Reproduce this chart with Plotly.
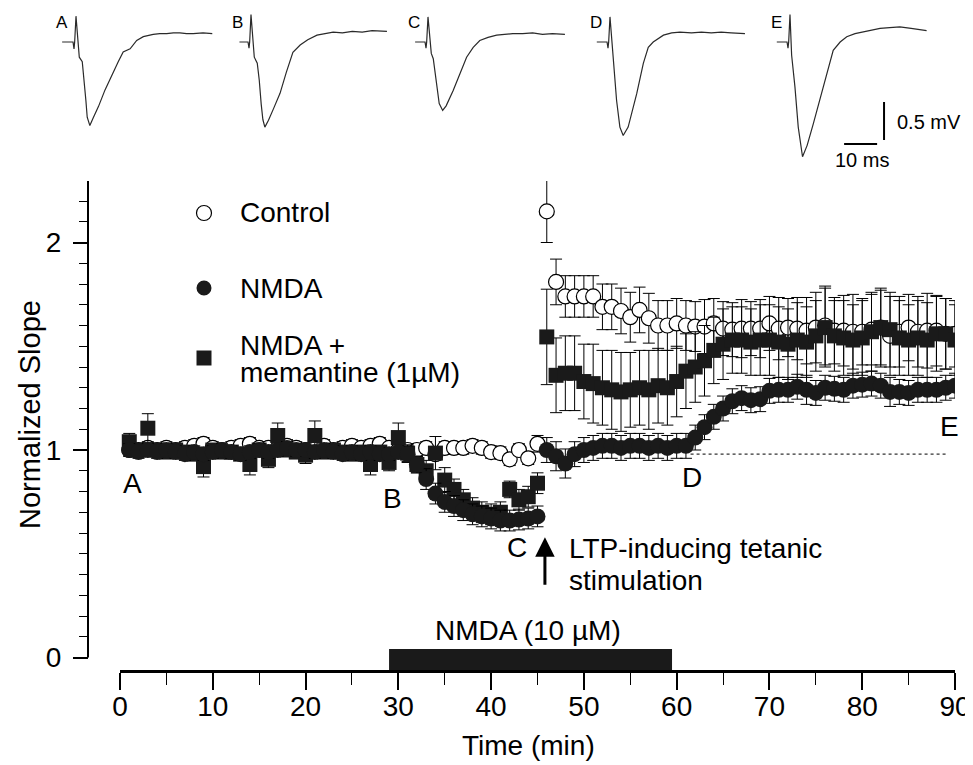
import plotly.graph_objects as go

# the page body adds an 8 px margin: positions below are page pixels, shifted back by it
W, H, BODY = 973, 765, 8
FONT = "Liberation Sans, Arial, sans-serif"

# ---- main time course (min), one point per minute ----
time_min = list(range(1, 91))

control = [
    1.00, 1.00, 1.01, 1.00, 1.01, 1.00, 1.01, 1.02, 1.03, 1.01,
    1.00, 1.01, 1.02, 1.03, 1.01, 1.01, 1.01, 1.02, 1.01, 1.00,
    1.01, 1.02, 1.00, 1.01, 1.02, 1.01, 1.02, 1.03, 1.01, 1.00,
    1.00, 1.00, 1.01, 0.98, 1.01, 1.01, 1.01, 1.02, 1.01, 0.99,
    0.985, 0.955, 1.00, 0.96, 1.03, 2.15, 1.81, 1.74, 1.74, 1.74,
    1.74, 1.69, 1.69, 1.67, 1.64, 1.675, 1.635, 1.60, 1.60, 1.61,
    1.60, 1.595, 1.595, 1.61, 1.585, 1.58, 1.585, 1.585, 1.585, 1.61,
    1.585, 1.59, 1.585, 1.575, 1.59, 1.60, 1.575, 1.575, 1.57, 1.57,
    1.58, 1.59, 1.55, 1.57, 1.59, 1.57, 1.575, 1.575, 1.56, 1.56,
]
control_se = [
    0.03, 0.03, 0.03, 0.03, 0.03, 0.03, 0.03, 0.03, 0.03, 0.03,
    0.03, 0.03, 0.03, 0.03, 0.03, 0.03, 0.03, 0.03, 0.03, 0.03,
    0.03, 0.03, 0.03, 0.03, 0.03, 0.03, 0.03, 0.03, 0.03, 0.03,
    0.03, 0.03, 0.03, 0.03, 0.03, 0.03, 0.03, 0.03, 0.03, 0.03,
    0.03, 0.03, 0.03, 0.03, 0.04, 0.15, 0.11, 0.10, 0.10, 0.10,
    0.10, 0.11, 0.11, 0.11, 0.12, 0.11, 0.12, 0.12, 0.12, 0.12,
    0.12, 0.12, 0.13, 0.12, 0.13, 0.13, 0.14, 0.13, 0.14, 0.13,
    0.15, 0.14, 0.15, 0.16, 0.17, 0.19, 0.16, 0.17, 0.18, 0.16,
    0.17, 0.18, 0.19, 0.17, 0.16, 0.17, 0.18, 0.17, 0.17, 0.16,
]
nmda = [
    1.00, 0.99, 1.00, 0.99, 1.00, 0.99, 0.98, 0.99, 0.98, 0.99,
    1.00, 0.99, 0.98, 0.99, 1.00, 0.99, 1.00, 1.01, 1.00, 1.00,
    0.99, 1.00, 0.99, 0.98, 0.99, 0.98, 0.99, 0.98, 0.98, 0.99,
    0.98, 0.93, 0.86, 0.79, 0.75, 0.73, 0.71, 0.69, 0.68, 0.67,
    0.66, 0.66, 0.665, 0.67, 0.68, 1.00, 0.97, 0.935, 0.98, 1.00,
    1.01, 1.02, 1.02, 1.01, 1.02, 1.02, 1.01, 1.02, 1.01, 1.02,
    1.02, 1.06, 1.11, 1.16, 1.20, 1.235, 1.25, 1.24, 1.245, 1.285,
    1.29, 1.29, 1.305, 1.29, 1.275, 1.30, 1.295, 1.29, 1.31, 1.315,
    1.32, 1.31, 1.28, 1.28, 1.275, 1.29, 1.29, 1.29, 1.30, 1.31,
]
nmda_se = [
    0.03, 0.03, 0.03, 0.03, 0.03, 0.03, 0.03, 0.03, 0.03, 0.03,
    0.03, 0.03, 0.03, 0.03, 0.03, 0.03, 0.03, 0.03, 0.03, 0.03,
    0.03, 0.03, 0.03, 0.03, 0.03, 0.03, 0.03, 0.03, 0.03, 0.03,
    0.04, 0.04, 0.05, 0.05, 0.05, 0.05, 0.05, 0.05, 0.05, 0.05,
    0.05, 0.05, 0.05, 0.05, 0.05, 0.06, 0.07, 0.07, 0.06, 0.06,
    0.06, 0.06, 0.06, 0.06, 0.06, 0.06, 0.06, 0.06, 0.06, 0.06,
    0.06, 0.06, 0.06, 0.06, 0.06, 0.06, 0.06, 0.06, 0.06, 0.06,
    0.06, 0.06, 0.06, 0.07, 0.06, 0.06, 0.06, 0.06, 0.06, 0.06,
    0.06, 0.06, 0.07, 0.06, 0.06, 0.06, 0.06, 0.06, 0.06, 0.06,
]
memantine = [
    1.04, 1.00, 1.105, 1.00, 0.99, 1.00, 0.99, 0.98, 0.92, 1.00,
    0.99, 0.99, 0.98, 0.93, 1.00, 0.955, 1.07, 1.00, 0.99, 0.975,
    1.07, 0.99, 1.00, 0.99, 0.98, 0.99, 0.93, 0.99, 0.94, 1.06,
    0.985, 0.93, 0.90, 0.985, 0.855, 0.81, 0.76, 0.72, 0.70, 0.69,
    0.70, 0.81, 0.76, 0.775, 0.84, 1.545, 1.36, 1.37, 1.37, 1.33,
    1.32, 1.30, 1.29, 1.28, 1.29, 1.30, 1.29, 1.31, 1.30, 1.33,
    1.38, 1.40, 1.43, 1.48, 1.51, 1.53, 1.53, 1.52, 1.53, 1.53,
    1.52, 1.51, 1.53, 1.52, 1.55, 1.59, 1.55, 1.54, 1.53, 1.54,
    1.57, 1.59, 1.58, 1.54, 1.53, 1.54, 1.53, 1.56, 1.56, 1.53,
]
memantine_se = [
    0.04, 0.03, 0.07, 0.03, 0.03, 0.03, 0.03, 0.03, 0.05, 0.03,
    0.03, 0.03, 0.03, 0.05, 0.03, 0.04, 0.06, 0.03, 0.03, 0.04,
    0.07, 0.03, 0.03, 0.03, 0.03, 0.03, 0.05, 0.03, 0.04, 0.07,
    0.04, 0.04, 0.05, 0.08, 0.06, 0.05, 0.05, 0.05, 0.05, 0.05,
    0.05, 0.04, 0.05, 0.05, 0.05, 0.23, 0.18, 0.18, 0.18, 0.18,
    0.19, 0.18, 0.19, 0.19, 0.18, 0.18, 0.19, 0.18, 0.18, 0.17,
    0.18, 0.17, 0.17, 0.16, 0.17, 0.16, 0.16, 0.16, 0.17, 0.17,
    0.17, 0.17, 0.18, 0.17, 0.17, 0.19, 0.17, 0.18, 0.17, 0.18,
    0.19, 0.19, 0.18, 0.18, 0.17, 0.18, 0.18, 0.18, 0.17, 0.17,
]

# NMDA application and pre-NMDA reference level
nmda_on, nmda_off = 29, 59.5
baseline_level = 0.98
baseline_from, baseline_to = 61.5, 89

# ---- example fEPSPs (ms from stimulus, mV) ----
trace_a_ms = [-3.9, -0.6, -0.3, -0.1, 0.3, 0.7, 1.3, 2.2, 2.7, 3.3, 3.7, 4.5, 5.5, 7.1, 9.1,
              11.6, 13.1, 14.6, 16.7, 18.7, 20.7, 23.7, 25.7, 27.8, 29.8, 31.8, 33.8, 35.8, 38.8, 41.6]
trace_a_mv = [0.0, 0.0, -0.09, 0.0, 0.34, 0.13, -0.2, -0.26, -0.46, -0.77, -0.99, -1.1, -1.0, -0.85, -0.63,
              -0.39, -0.26, -0.13, -0.09, 0.02, 0.07, 0.1, 0.11, 0.11, 0.12, 0.12, 0.11, 0.11, 0.12, 0.11]
trace_b_ms = [-3.2, -0.6, -0.3, -0.1, 0.3, 0.7, 1.3, 2.2, 2.8, 3.4, 3.9, 4.5, 5.6, 7.2, 9.1,
              11.0, 13.0, 15.2, 17.5, 20.3, 22.5, 25.2, 28.0, 31.0, 34.0, 37.0, 41.5]
trace_b_mv = [0.0, 0.0, -0.08, 0.0, 0.36, 0.12, -0.2, -0.28, -0.5, -0.82, -1.02, -1.12, -1.03, -0.87, -0.675,
              -0.40, -0.135, -0.04, 0.03, 0.09, 0.11, 0.13, 0.12, 0.14, 0.13, 0.15, 0.14]
trace_c_ms = [-3.6, -0.6, -0.3, -0.1, 0.3, 0.7, 1.3, 1.9, 2.9, 3.7, 4.75, 5.8, 7.9, 10.0, 12.0,
              14.0, 16.0, 18.5, 21.1, 23.5, 26.0, 29.0, 32.0, 35.0, 38.0, 41.8]
trace_c_mv = [0.0, 0.0, -0.08, 0.0, 0.33, 0.12, -0.15, -0.22, -0.59, -0.81, -0.90, -0.84, -0.64, -0.42, -0.20,
              -0.07, 0.02, 0.06, 0.09, 0.10, 0.11, 0.11, 0.12, 0.10, 0.11, 0.10]
trace_d_ms = [-3.7, -0.6, -0.3, -0.1, 0.3, 0.7, 1.2, 2.3, 3.3, 4.3, 5.8, 8.4, 10.4, 11.9, 13.4,
              16.5, 19.0, 21.5, 25.0, 28.0, 31.0, 34.0, 37.0, 41.2]
trace_d_mv = [0.0, 0.0, -0.08, 0.0, 0.33, 0.10, -0.24, -0.77, -1.12, -1.23, -1.12, -0.68, -0.28, -0.07, 0.0,
              0.09, 0.12, 0.13, 0.12, 0.13, 0.12, 0.13, 0.12, 0.11]
trace_e_ms = [-3.7, -0.6, -0.3, -0.1, 0.3, 0.6, 0.8, 1.8, 2.8, 4.1, 5.5, 7.4, 10.4, 13.4, 15.5,
              17.5, 20.0, 22.5, 25.0, 27.6, 30.5, 33.6, 37.0, 41.7]
trace_e_mv = [0.0, 0.0, -0.08, 0.0, 0.36, 0.05, -0.175, -0.59, -1.12, -1.51, -1.36, -1.07, -0.59, -0.11, 0.0,
              0.07, 0.11, 0.13, 0.16, 0.18, 0.19, 0.20, 0.18, 0.15]
trace_labels = ["A", "B", "C", "D", "E"]
scale_ms, scale_mv = 10, 0.5


def px(x):
    # page pixel -> paper fraction
    return (x - BODY) / W


def py(y):
    return 1 - (y - BODY) / H


Y_RANGE = [-0.0602, 2.2964]
fig = go.Figure()

fig.add_trace(go.Scatter(
    x=time_min, y=control, mode="markers", name="Control",
    marker=dict(symbol="circle", size=15, color="white", line=dict(color="black", width=1.2)),
    error_y=dict(type="data", array=control_se, color="black", thickness=1, width=6),
))
fig.add_trace(go.Scatter(
    x=time_min, y=memantine, mode="markers", name="NMDA + memantine (1µM)",
    marker=dict(symbol="square", size=15, color="#1a1a1a"),
    error_y=dict(type="data", array=memantine_se, color="black", thickness=1, width=6),
))
fig.add_trace(go.Scatter(
    x=time_min, y=nmda, mode="markers", name="NMDA",
    marker=dict(symbol="circle", size=16, color="#1a1a1a"),
    error_y=dict(type="data", array=nmda_se, color="black", thickness=1, width=6),
))
fig.add_trace(go.Scatter(
    x=[baseline_from, baseline_to], y=[baseline_level, baseline_level], mode="lines",
    line=dict(color="#333", width=1.2, dash="dot"), hoverinfo="skip",
))

# inset traces
traces = [(trace_a_ms, trace_a_mv), (trace_b_ms, trace_b_mv), (trace_c_ms, trace_c_mv),
          (trace_d_ms, trace_d_mv), (trace_e_ms, trace_e_mv)]
stim_px = [75, 250, 427, 609, 789]
MS_PX, MV_PX, BASE_PY = 3.3, 76, 42
inset_x = [-5, 43]
inset_y = [-1.6, 0.44]

layout_axes = {}
for i, ((t, v), s) in enumerate(zip(traces, stim_px)):
    n = i + 2
    fig.add_trace(go.Scatter(x=t, y=v, mode="lines", xaxis=f"x{n}", yaxis=f"y{n}",
                             line=dict(color="#2a2a2a", width=1.2), hoverinfo="skip"))
    layout_axes[f"xaxis{n}"] = dict(
        domain=[px(s + inset_x[0] * MS_PX), px(s + inset_x[1] * MS_PX)],
        range=inset_x, visible=False, anchor=f"y{n}")
    layout_axes[f"yaxis{n}"] = dict(
        domain=[py(BASE_PY - inset_y[0] * MV_PX), min(1.0, py(BASE_PY - inset_y[1] * MV_PX))],
        range=inset_y, visible=False, anchor=f"x{n}")

annotations = []
for i, lab in enumerate(trace_labels):
    n = i + 2
    annotations.append(dict(x=-3.9, y=0.26, xref=f"x{n}", yref=f"y{n}", text=lab, showarrow=False,
                            font=dict(size=17, family=FONT, color="black")))

# scale bars (in trace E's axes)
shapes = [
    dict(type="line", xref="x6", yref="y6", x0=16.7, x1=16.7 + scale_ms, y0=-1.342, y1=-1.342,
         line=dict(color="black", width=2)),
    dict(type="line", xref="x6", yref="y6", x0=28.8, x1=28.8, y0=-0.789, y1=-0.789 - scale_mv,
         line=dict(color="black", width=2)),
]
annotations += [
    dict(x=32.1, y=-1.05, xref="x6", yref="y6", text=f"{scale_mv} mV", showarrow=False, xanchor="left",
         font=dict(size=20, family=FONT, color="black")),
    dict(x=22.1, y=-1.55, xref="x6", yref="y6", text=f"{scale_ms} ms", showarrow=False,
         font=dict(size=20, family=FONT, color="black")),
]

# y axis line from 0 to top, NMDA bar on the time axis
shapes += [
    dict(type="line", xref="paper", yref="y", x0=px(88), x1=px(88), y0=0, y1=Y_RANGE[1],
         line=dict(color="black", width=2)),
    dict(type="rect", xref="x", yref="y", x0=nmda_on, x1=nmda_off, y0=Y_RANGE[0], y1=0.041,
         fillcolor="#1a1a1a", line=dict(width=0)),
]

big = dict(size=28, family=FONT, color="black")
for lab, x, y in [("A", 1.4, 0.84), ("B", 29.4, 0.768), ("C", 42.8, 0.53), ("D", 61.6, 0.867), ("E", 89.4, 1.111)]:
    annotations.append(dict(x=x, y=y, xref="x", yref="y", text=lab, showarrow=False, font=big))

annotations += [
    dict(x=45.8, y=0.58, xref="x", yref="y", text="", showarrow=True, ax=0, ay=49,
         arrowhead=2, arrowsize=1.3, arrowwidth=3, arrowcolor="black"),
    dict(x=48.2, y=0.523, xref="x", yref="y", text="LTP-inducing tetanic", showarrow=False,
         xanchor="left", font=big),
    dict(x=48.2, y=0.373, xref="x", yref="y", text="stimulation", showarrow=False,
         xanchor="left", font=big),
    dict(x=44, y=0.1325, xref="x", yref="y", text="NMDA (10 µM)", showarrow=False, font=big),
    dict(x=px(528), y=py(745), xref="paper", yref="paper", text="Time (min)", showarrow=False,
         xanchor="center", yanchor="middle", font=big),
    dict(x=px(30), y=py(415), xref="paper", yref="paper", text="Normalized Slope", showarrow=False,
         xanchor="center", yanchor="middle", textangle=-90,
         font=dict(size=29, family=FONT, color="black")),
]

# hand-drawn legend
legend_items = [
    ("circle", "white", 213, ["Control"], [213]),
    ("circle", "#1a1a1a", 288, ["NMDA"], [288]),
    ("square", "#1a1a1a", 358, ["NMDA +", "memantine (1µM)"], [345, 372]),
]
for sym, col, yk, texts, ys in legend_items:
    shapes.append(dict(type="circle" if sym == "circle" else "rect", xref="paper", yref="paper",
                       xsizemode="pixel", ysizemode="pixel", xanchor=px(204), yanchor=py(yk),
                       x0=-7.5, x1=7.5, y0=-7.5, y1=7.5, fillcolor=col,
                       line=dict(color="black", width=1.2 if col == "white" else 0)))
    for txt, yy in zip(texts, ys):
        annotations.append(dict(x=px(238), y=py(yy), xref="paper", yref="paper", text=txt,
                                showarrow=False, xanchor="left", yanchor="middle", font=big))

fig.update_layout(
    width=W, height=H,
    margin=dict(l=0, r=0, t=0, b=0, autoexpand=False),
    paper_bgcolor="white", plot_bgcolor="rgba(0,0,0,0)",
    showlegend=False,
    font=dict(family=FONT, color="black"),
    xaxis=dict(
        domain=[px(120), px(955)], range=[0, 90], anchor="y",
        tick0=0, dtick=10, ticks="outside", ticklen=17, tickwidth=1.5, tickcolor="black",
        minor=dict(tick0=0, dtick=5, ticks="outside", ticklen=12, tickwidth=1.2, tickcolor="black"),
        showline=True, linewidth=3, linecolor="black", showgrid=False, zeroline=False,
        tickfont=dict(size=28, family=FONT, color="black"), ticklabelstandoff=-8,
    ),
    yaxis=dict(
        domain=[py(670), py(181)], range=Y_RANGE, anchor="free", position=px(88),
        tickvals=[0, 1, 2], ticks="outside", ticklen=15, tickwidth=1.5, tickcolor="black",
        minor=dict(tick0=0, dtick=0.1, ticks="outside", ticklen=9, tickwidth=1.2, tickcolor="black"),
        showline=False, showgrid=False, zeroline=False,
        tickfont=dict(size=28, family=FONT, color="black"), ticklabelstandoff=6,
    ),
    shapes=shapes,
    annotations=annotations,
    **layout_axes,
)

fig.write_html("out.html")
